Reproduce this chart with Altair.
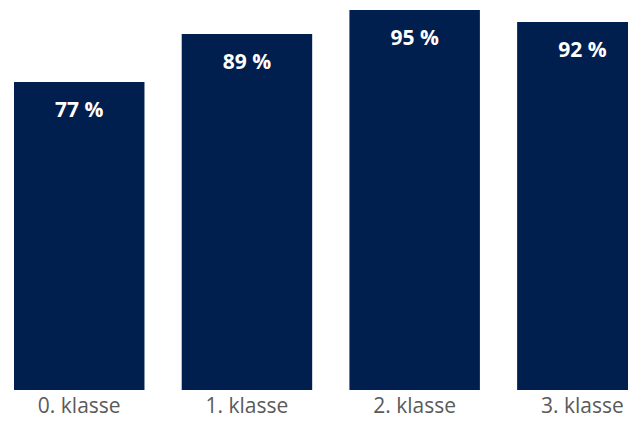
import altair as alt
import pandas as pd

categories = ["0. klasse", "1. klasse", "2. klasse", "3. klasse"]
values = [77, 89, 95, 92]
labels = ["77 %", "89 %", "95 %", "92 %"]

df = pd.DataFrame({"klasse": categories, "pct": values, "label": labels})

x = alt.X("klasse:N", sort=categories, title=None,
          scale=alt.Scale(range=[6, 639.6], paddingInner=0.222, paddingOuter=0),
          axis=alt.Axis(labelAngle=0, domain=False, ticks=False, labelPadding=22,
                        labelBaseline="alphabetic",
                        labelFont="Open Sans", labelFontSize=21, labelColor="#5a5a5a"))
y = alt.Y("pct:Q", title=None, scale=alt.Scale(domain=[0, 95.5], nice=False, zero=True),
          axis=None)

bars = alt.Chart(df).mark_bar(color="#001e4e").encode(x=x, y=y)
text = alt.Chart(df).mark_text(color="white", font="Open Sans", fontWeight="bold",
                               fontSize=21, baseline="alphabetic", dy=35).encode(
    x=alt.X("klasse:N", sort=categories), y="pct:Q", text="label:N")

chart = (bars + text).properties(
    width=620, height=382,
    background="white",
    padding={"left": 0, "top": 0, "right": 0, "bottom": 28},
    autosize=alt.AutoSizeParams(type="none"),
).configure_view(stroke=None, strokeWidth=0)

chart.save("out.html", embed_options={"renderer": "svg", "actions": False})
